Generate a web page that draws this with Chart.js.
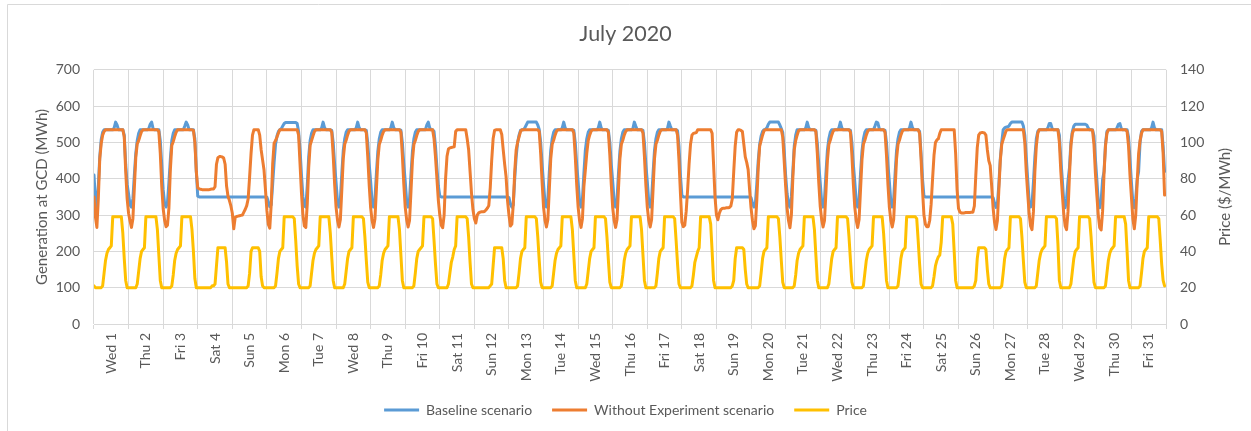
<!DOCTYPE html>
<html>
<head>
<meta charset="utf-8">
<title>July 2020</title>
<script src="https://cdn.jsdelivr.net/npm/chart.js@4.4.1/dist/chart.umd.min.js"></script>
<style>
  html, body { margin: 0; padding: 0; background: #ffffff; }
  canvas { display: block; }
</style>
</head>
<body>
<canvas id="chart" width="1251" height="431"></canvas>
<script>
// Day labels along the bottom axis (one per day of July 2020)
const dayLabels = [
  'Wed 1', 'Thu 2', 'Fri 3', 'Sat 4', 'Sun 5', 'Mon 6', 'Tue 7', 'Wed 8', 'Thu 9', 'Fri 10',
  'Sat 11', 'Sun 12', 'Mon 13', 'Tue 14', 'Wed 15', 'Thu 16', 'Fri 17', 'Sat 18', 'Sun 19',
  'Mon 20', 'Tue 21', 'Wed 22', 'Thu 23', 'Fri 24', 'Sat 25', 'Sun 26', 'Mon 27', 'Tue 28',
  'Wed 29', 'Thu 30', 'Fri 31'
];

// Axis ranges
const generationTicks = [0, 100, 200, 300, 400, 500, 600, 700];
const priceTicks = [0, 20, 40, 60, 80, 100, 120, 140];

// Hourly generation at GCD, baseline scenario (MWh), one row per day, hours 0-23
const baselineMWh = [
  410,340,323,380,460,508,528,535,535,535,535,535,535,535,540,556,548,535,535,535,535,520,440,385,
  358,328,322,345,410,470,505,525,535,535,535,535,535,535,538,550,556,538,535,535,535,535,505,440,
  370,332,322,335,390,455,505,525,535,535,535,535,535,535,535,545,556,548,535,535,535,535,510,420,
  352,350,350,350,350,350,350,350,350,350,350,350,350,350,350,350,350,350,350,350,350,350,350,350,
  350,350,350,350,350,350,350,350,350,350,350,350,350,350,350,350,350,350,350,350,350,350,350,350,
  349,336,323,328,385,445,495,518,530,535,538,545,552,555,555,555,555,555,555,555,555,552,530,480,
  410,350,325,322,380,460,505,525,535,535,535,535,535,535,540,556,541,535,535,535,535,533,500,440,
  390,338,322,345,415,478,510,528,535,535,535,535,535,535,540,556,541,535,535,535,535,533,498,440,
  392,338,322,345,415,476,510,528,535,535,535,535,535,535,540,556,541,535,535,535,535,534,500,442,
  392,338,322,345,412,475,510,528,535,535,535,535,535,535,535,548,556,540,535,535,530,490,430,380,
  352,350,350,350,350,350,350,350,350,350,350,350,350,350,350,350,350,350,350,350,350,350,350,350,
  350,350,350,350,350,350,350,350,350,350,350,350,350,350,350,350,350,350,350,350,350,350,350,350,
  348,330,322,328,400,460,500,520,533,535,535,540,548,556,556,556,556,556,556,556,548,536,500,440,
  385,336,322,345,418,478,510,528,535,535,535,535,535,540,556,540,535,535,535,535,535,533,500,440,
  392,338,322,345,415,478,510,528,535,535,535,535,535,535,540,556,540,535,535,535,535,533,500,440,
  392,338,322,345,415,476,510,528,535,535,535,535,535,535,538,556,545,535,535,535,535,533,500,440,
  392,338,322,345,415,478,510,528,535,535,535,535,535,535,538,556,545,535,535,535,535,532,490,410,
  355,350,350,350,350,350,350,350,350,350,350,350,350,350,350,350,350,350,350,350,350,350,350,350,
  350,350,350,350,350,350,350,350,350,350,350,350,350,350,350,350,350,350,350,350,350,350,350,350,
  348,333,322,330,385,450,495,518,530,535,536,540,550,556,556,556,556,556,556,556,548,538,528,480,
  410,360,330,322,350,420,490,520,535,535,535,535,535,535,540,556,541,535,535,535,535,533,498,440,
  390,338,322,345,415,478,510,528,535,535,535,535,535,540,556,540,535,535,535,535,535,533,500,440,
  392,338,322,345,415,476,510,528,535,535,535,535,535,535,545,556,554,538,535,535,535,533,500,440,
  392,338,322,345,415,478,510,528,535,535,535,535,535,535,540,556,541,535,535,535,535,530,470,400,
  352,350,350,350,350,350,350,350,350,350,350,350,350,350,350,350,350,350,350,350,350,350,350,350,
  350,350,350,350,350,350,350,350,350,350,350,350,350,350,350,350,350,350,350,350,350,350,350,350,
  348,333,321,330,385,455,500,535,540,542,543,545,552,556,556,556,556,556,556,556,556,545,520,460,
  400,340,322,330,390,460,510,530,535,535,535,535,535,535,540,552,552,538,535,535,535,535,520,455,
  400,340,320,345,395,430,500,530,545,550,550,550,550,550,550,550,550,548,540,535,535,535,518,455,
  398,338,320,340,398,420,495,530,535,535,535,535,535,535,540,550,552,538,535,535,535,535,515,455,
  390,335,320,345,398,420,500,530,535,535,535,535,535,535,540,556,540,535,535,535,535,535,490,420
];

// Hourly generation at GCD without the experiment (MWh), one row per day
const noExperimentMWh = [
  350,295,266,345,455,497,520,530,535,535,535,535,535,535,535,535,535,535,535,535,535,515,420,345,
  305,284,266,290,375,458,496,505,518,530,535,535,535,535,535,535,535,535,535,535,535,530,470,380,
  318,286,268,272,320,425,492,502,516,528,535,535,535,535,535,535,535,535,535,535,535,533,500,420,
  375,372,371,370,370,370,370,370,370,371,372,372,378,440,458,461,461,460,457,440,380,352,340,325,
  305,262,294,296,297,298,299,300,308,316,326,345,405,470,520,535,535,535,535,520,480,452,424,370,
  312,274,264,330,440,498,505,515,526,535,535,535,535,535,535,535,535,535,535,535,535,535,520,440,
  360,300,270,266,330,430,492,505,518,530,535,535,535,535,535,535,535,535,535,535,535,528,465,385,
  322,286,267,288,370,455,495,506,520,531,535,535,535,535,535,535,535,535,535,535,535,526,460,382,
  320,285,266,290,372,452,494,506,520,530,535,535,535,535,535,535,535,535,535,535,535,528,465,386,
  322,287,267,285,365,450,494,505,519,530,535,535,535,535,535,535,535,535,535,535,510,460,400,340,
  300,272,265,300,400,462,482,485,486,487,488,530,535,535,535,535,535,535,535,510,480,420,360,315,
  290,278,300,306,308,309,309,310,314,319,326,375,450,510,533,535,535,535,535,522,480,440,405,340,
  300,270,275,330,420,480,500,515,530,535,535,535,535,535,535,535,535,535,535,535,535,530,470,390,
  322,286,267,288,370,455,495,506,520,531,535,535,535,535,535,535,535,535,535,535,535,526,462,384,
  322,285,266,290,378,424,470,505,520,531,535,535,535,535,535,535,535,535,535,535,535,528,465,385,
  320,285,266,288,372,455,495,506,520,530,535,535,535,535,535,535,535,535,535,535,535,526,462,384,
  322,286,267,288,370,455,495,506,520,531,535,535,535,535,535,535,535,535,535,535,535,520,450,360,
  280,268,272,310,370,440,495,520,525,526,527,535,535,535,535,535,535,535,535,535,535,525,440,350,
  300,287,305,315,318,319,319,320,320,321,325,345,420,490,528,535,535,533,530,495,460,445,425,370,
  320,285,262,270,340,430,490,505,520,532,535,535,535,535,535,535,535,535,535,535,535,535,515,450,
  380,320,285,265,300,400,480,505,520,532,535,535,535,535,535,535,535,535,535,535,535,530,470,390,
  325,288,267,285,365,450,494,506,520,531,535,535,535,535,535,535,535,535,535,535,535,528,465,386,
  322,286,266,288,370,452,495,506,520,531,535,535,535,535,535,535,535,535,535,535,535,528,465,386,
  322,286,267,288,372,455,495,506,520,531,535,535,535,535,535,535,535,535,535,535,535,525,455,370,
  300,275,268,268,285,330,400,465,500,507,510,525,535,535,535,535,535,535,535,535,535,535,470,370,
  318,308,306,306,306,307,307,307,307,308,308,325,410,485,520,526,527,527,526,520,480,450,436,380,
  320,280,260,285,370,450,495,508,520,532,535,535,535,535,535,535,535,535,535,535,535,535,500,420,
  360,305,270,260,310,420,490,525,535,535,535,535,535,535,535,535,535,535,535,535,535,535,500,420,
  360,305,270,260,310,410,490,525,535,535,535,535,535,535,535,535,535,535,535,535,535,533,495,415,
  355,300,265,259,310,415,490,525,535,535,535,535,535,535,535,535,535,535,535,535,535,530,490,410,
  350,290,262,300,390,470,505,525,535,535,535,535,535,535,535,535,535,535,535,535,535,530,470,355
];

// Hourly price ($/MWh), one row per day
const priceUSD = [
  21,20,20,20,20,20,21,28,35,39,41,42,43,59,59,59,59,59,59,59,50,36,24,20,
  20,20,20,20,20,20,22,29,36,40,41,42,59,59,59,59,59,59,59,59,52,38,24,20,
  20,20,20,20,20,20,21,27,35,39,41,42,43,59,59,59,59,59,59,59,52,40,25,20,
  20,20,20,20,20,20,20,20,20,20,21,21,22,32,42,42,42,42,42,42,34,22,20,20,
  20,20,20,20,20,20,20,20,20,20,20,21,28,40,42,42,42,42,42,40,26,21,20,20,
  20,20,20,20,20,20,21,28,36,40,41,42,59,59,59,59,59,59,59,58,46,32,22,20,
  20,20,20,20,20,20,21,28,35,39,41,42,43,59,59,59,59,59,59,59,50,37,24,20,
  20,20,20,20,20,20,22,29,36,40,41,42,59,59,59,59,59,59,59,58,48,35,23,20,
  20,20,20,20,20,20,21,27,35,39,41,42,43,59,59,59,59,59,59,59,52,38,24,20,
  20,20,20,20,20,20,21,28,36,40,41,42,43,59,59,59,59,59,59,58,46,33,22,20,
  20,20,20,20,20,20,22,28,34,37,41,43,59,59,59,59,59,59,59,58,48,34,22,20,
  20,20,20,20,20,20,20,20,20,20,20,21,22,32,42,42,42,42,42,42,36,24,20,20,
  20,20,20,20,20,20,21,28,36,40,41,42,59,59,59,59,59,59,59,58,48,35,23,20,
  20,20,20,20,20,20,21,28,35,39,41,42,43,59,59,59,59,59,59,59,52,38,24,20,
  20,20,20,20,20,20,22,29,36,40,41,42,59,59,59,59,59,59,59,58,48,35,23,20,
  20,20,20,20,20,20,21,27,35,39,41,42,43,59,59,59,59,59,59,59,52,38,24,20,
  20,20,20,20,20,20,21,28,36,40,41,42,59,59,59,59,59,59,59,58,46,33,22,20,
  20,20,20,20,20,20,20,21,27,34,37,40,42,59,59,59,59,59,59,59,55,40,24,20,
  20,20,20,20,20,20,20,20,20,20,20,21,24,36,42,42,42,42,42,41,30,22,20,20,
  20,20,20,20,20,20,21,28,36,40,41,42,59,59,59,59,59,59,59,58,48,35,23,20,
  20,20,20,20,20,20,21,27,35,39,41,42,43,59,59,59,59,59,59,59,52,38,24,20,
  20,20,20,20,20,20,22,29,36,40,41,42,59,59,59,59,59,59,59,58,48,35,23,20,
  20,20,20,20,20,20,21,28,35,39,41,42,43,59,59,59,59,59,59,59,50,37,24,20,
  20,20,20,20,20,20,21,28,36,40,41,42,59,59,59,59,59,59,59,58,46,33,22,20,
  20,20,20,20,20,20,21,26,32,35,37,38,45,59,59,59,59,59,59,59,55,40,24,20,
  20,20,20,20,20,20,20,20,20,20,20,21,24,36,42,42,42,42,42,41,30,22,20,20,
  20,20,20,20,20,20,21,28,36,40,41,42,59,59,59,59,59,59,59,58,48,35,23,20,
  20,20,20,20,20,20,21,28,35,39,41,42,43,59,59,59,59,59,59,59,58,44,24,20,
  20,20,20,20,20,20,22,29,36,40,41,42,59,59,59,59,59,59,59,58,48,35,23,20,
  20,20,20,20,20,20,21,28,35,39,41,42,43,59,59,59,59,59,59,59,55,40,24,20,
  20,20,20,20,20,20,21,28,36,40,41,42,59,59,59,59,59,59,59,58,46,33,24,21
];

const TEXT = '#595959';
const GRID = '#D9D9D9';
const FONT = "Lato, 'Open Sans', 'Liberation Sans', sans-serif";
const HOURS = dayLabels.length * 24;

// points keyed by hour of the month
const asHourly = values => values.map((v, h) => ({ x: h, y: v }));

// white background, frame edges and the right-hand axis title (reads bottom to top)
const chartFrame = {
  id: 'chartFrame',
  beforeDraw(chart) {
    const c = chart.ctx;
    c.save();
    c.fillStyle = '#ffffff';
    c.fillRect(0, 0, chart.width, chart.height);
    c.strokeStyle = GRID;
    c.lineWidth = 1;
    c.beginPath();
    c.moveTo(7.5, chart.height);
    c.lineTo(7.5, 4.5);
    c.lineTo(chart.width, 4.5);
    c.stroke();
    c.restore();
  },
  afterDraw(chart) {
    const c = chart.ctx, a = chart.chartArea;
    c.save();
    c.translate(1225, (a.top + a.bottom) / 2);
    c.rotate(-Math.PI / 2);
    c.font = '15px ' + FONT;
    c.fillStyle = TEXT;
    c.textAlign = 'center';
    c.textBaseline = 'middle';
    c.fillText('Price ($/MWh)', 0, 0);
    c.restore();
  }
};

new Chart(document.getElementById('chart'), {
  type: 'line',
  data: {
    datasets: [
      { label: 'Baseline scenario', data: asHourly(baselineMWh), yAxisID: 'y', xAxisID: 'x',
        borderColor: '#5B9BD5', backgroundColor: '#5B9BD5', order: 3 },
      { label: 'Without Experiment scenario', data: asHourly(noExperimentMWh), yAxisID: 'y', xAxisID: 'x',
        borderColor: '#ED7D31', backgroundColor: '#ED7D31', order: 2 },
      { label: 'Price', data: asHourly(priceUSD), yAxisID: 'y1', xAxisID: 'x',
        borderColor: '#FFC000', backgroundColor: '#FFC000', order: 1 }
    ]
  },
  options: {
    responsive: false,
    animation: false,
    events: [],
    layout: { padding: { left: 0, right: 0, top: 0, bottom: 4 } },
    elements: {
      line: { borderWidth: 3, tension: 0, borderJoinStyle: 'round', borderCapStyle: 'round', fill: false },
      point: { radius: 0, hoverRadius: 0 }
    },
    scales: {
      x: { type: 'linear', min: 0, max: HOURS, display: false },
      days: {
        type: 'category',
        labels: dayLabels,
        position: 'bottom',
        offset: true,
        grid: { offset: true, color: GRID, tickLength: 5, drawTicks: true },
        border: { color: GRID },
        ticks: { autoSkip: false, maxRotation: 90, minRotation: 90, padding: 4,
                 color: TEXT, font: { family: FONT, size: 14 } },
        afterFit(s) { s.height = 59; }
      },
      y: {
        position: 'left',
        min: generationTicks[0],
        max: generationTicks[generationTicks.length - 1],
        ticks: { stepSize: generationTicks[1] - generationTicks[0], padding: 14,
                 color: TEXT, font: { family: FONT, size: 14 } },
        grid: { color: GRID, drawTicks: false },
        border: { display: false },
        title: { display: true, text: 'Generation at GCD (MWh)', color: TEXT,
                 font: { family: FONT, size: 15 }, padding: { top: 33, bottom: 0 } },
        afterFit(s) { s.width = 94; }
      },
      y1: {
        position: 'right',
        min: priceTicks[0],
        max: priceTicks[priceTicks.length - 1],
        ticks: { stepSize: priceTicks[1] - priceTicks[0], padding: 14,
                 color: TEXT, font: { family: FONT, size: 14 } },
        grid: { drawOnChartArea: false, drawTicks: false },
        border: { display: false },
        afterFit(s) { s.width = 85; }
      }
    },
    plugins: {
      title: {
        display: true,
        text: 'July 2020',
        color: TEXT,
        font: { family: FONT, size: 21.5, weight: 'normal' },
        padding: { top: 21, bottom: 23 }
      },
      legend: {
        position: 'bottom',
        labels: {
          color: TEXT,
          font: { family: FONT, size: 14 },
          boxWidth: 35,
          boxHeight: 3,
          padding: 20,
          sort: (a, b) => a.datasetIndex - b.datasetIndex,
          generateLabels(chart) {
            const items = Chart.defaults.plugins.legend.labels.generateLabels(chart);
            items.forEach(it => { it.lineWidth = 0; it.fillStyle = it.strokeStyle; });
            return items;
          }
        }
      },
      tooltip: { enabled: false }
    }
  },
  plugins: [chartFrame]
});
</script>
</body>
</html>
